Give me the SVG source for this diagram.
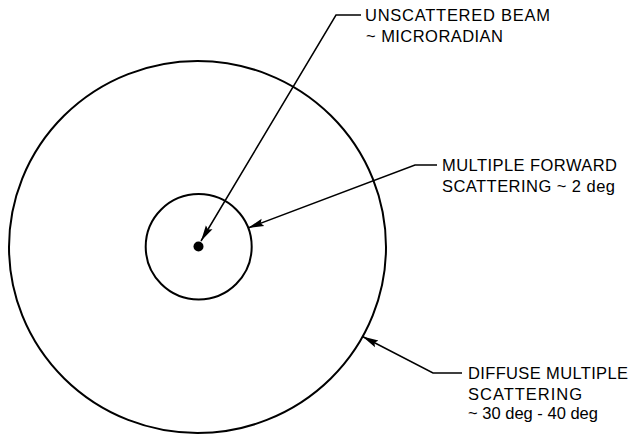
<svg xmlns="http://www.w3.org/2000/svg" width="634" height="434" viewBox="0 0 634 434">
<style>
.ring{fill:none;stroke:#000;stroke-width:2}
.con{fill:none;stroke:#000;stroke-width:1.5;stroke-linejoin:miter}
.lbl{font-family:"Liberation Sans",Arial,sans-serif;font-size:16.5px;fill:#000}
</style>
<defs>
<marker id="arr" markerUnits="userSpaceOnUse" markerWidth="18" markerHeight="10" viewBox="0 -5 18 10" refX="16" refY="0" orient="auto">
<path d="M0,-3.8 L16,0 L0,3.8 L2.5,0 z" fill="#000"/>
</marker>
</defs>
<rect width="634" height="434" fill="#fff"/>
<g id="outer-region">
<ellipse class="ring" cx="197.5" cy="247" rx="188.5" ry="186"/>
</g>
<g id="inner-region">
<ellipse class="ring" cx="198.7" cy="246.7" rx="53" ry="52.7"/>
</g>
<g id="beam">
<circle cx="198.5" cy="246.5" r="5" fill="#000"/>
</g>
<g id="connectors">
<polyline class="con" points="361,15 336,15 201,241" marker-end="url(#arr)"/>
<polyline class="con" points="437,165 415,165 248,228" marker-end="url(#arr)"/>
<polyline class="con" points="462,373 433,373 362.5,336.5" marker-end="url(#arr)"/>
</g>
<g id="label-unscattered">
<text class="lbl" x="365" y="21" textLength="185" lengthAdjust="spacing">UNSCATTERED BEAM</text>
<text class="lbl" x="366" y="41.5" textLength="137" lengthAdjust="spacing">~ MICRORADIAN</text>
</g>
<g id="label-forward">
<text class="lbl" x="442" y="171" textLength="175" lengthAdjust="spacing">MULTIPLE FORWARD</text>
<text class="lbl" x="442" y="191.5" textLength="173" lengthAdjust="spacing">SCATTERING ~ 2 deg</text>
</g>
<g id="label-diffuse">
<text class="lbl" x="468" y="379" textLength="160" lengthAdjust="spacing">DIFFUSE MULTIPLE</text>
<text class="lbl" x="468" y="399.5" textLength="114" lengthAdjust="spacing">SCATTERING</text>
<text class="lbl" x="468" y="419" textLength="130" lengthAdjust="spacing">~ 30 deg - 40 deg</text>
</g>
</svg>
